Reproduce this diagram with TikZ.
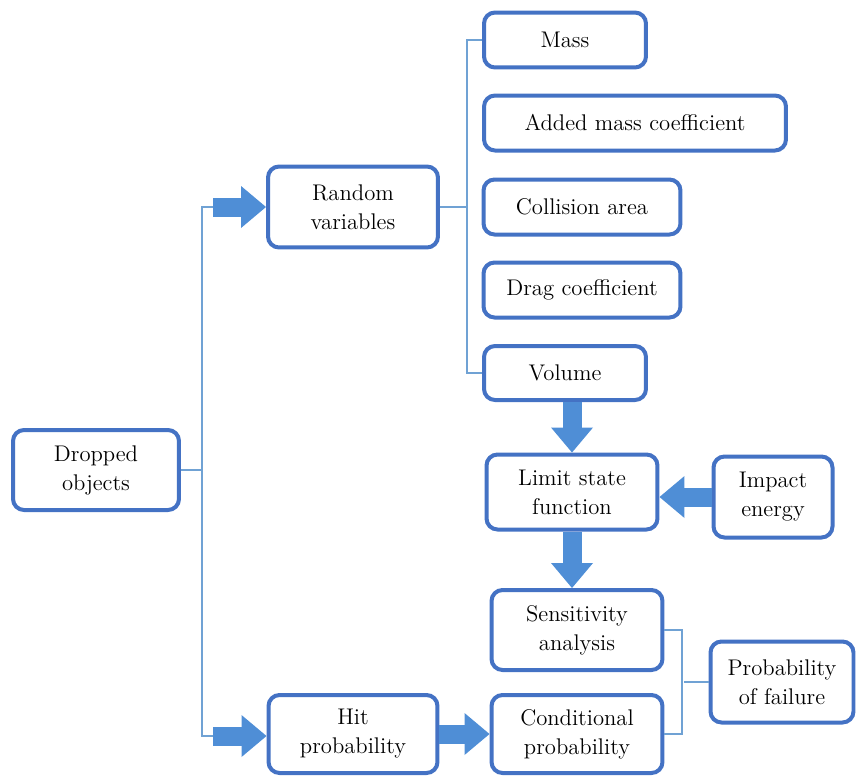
\documentclass[tikz,border=0pt]{standalone}
\usetikzlibrary{arrows.meta}
\definecolor{boxblue}{RGB}{68,114,196}
\definecolor{arrowblue}{RGB}{79,142,214}
\definecolor{linkblue}{RGB}{112,162,212}
\begin{document}
\begin{tikzpicture}[x=0.02cm,y=-0.02cm,
    box/.style={draw=boxblue,line width=0.08cm,rounded corners=0.22cm,fill=white,
        align=center,inner sep=0pt,font=\fontsize{12.9}{16.5}\selectfont},
    link/.style={draw=linkblue,line width=0.04cm},
    blockarrow/.style={draw=arrowblue,line width=0.38cm,
        -{Triangle[length=0.5cm,width=0.84cm,line width=0pt]}}]
        \useasboundingbox (0,0) rectangle (858,778);
        % Left column
        \node[box,minimum width=3.32cm,minimum height=1.6cm] (drop) at (96,470) {Dropped\\objects};
        \node[box,minimum width=3.4cm,minimum height=1.62cm] (rv) at (353,207) {Random\\variables};
        \node[box,minimum width=3.38cm,minimum height=1.56cm] (hit) at (353,734) {Hit\\probability};
        % Random variables
        \node[box,minimum width=3.24cm,minimum height=1.1cm] (mass) at (565,40) {Mass};
        \node[box,minimum width=6.04cm,minimum height=1.1cm] (amc) at (635,123) {Added mass coefficient};
        \node[box,minimum width=3.94cm,minimum height=1.1cm] (ca) at (582,207) {Collision area};
        \node[box,minimum width=3.94cm,minimum height=1.1cm] (dc) at (582,290) {Drag coefficient};
        \node[box,minimum width=3.24cm,minimum height=1.08cm] (vol) at (565,373) {Volume};
        % Analysis
        \node[box,minimum width=3.42cm,minimum height=1.5cm] (lsf) at (572,492) {Limit state\\function};
        \node[box,minimum width=2.38cm,minimum height=1.62cm] (ie) at (773,497) {Impact\\energy};
        \node[box,minimum width=3.42cm,minimum height=1.6cm] (sa) at (577,630) {Sensitivity\\analysis};
        \node[box,minimum width=3.42cm,minimum height=1.56cm] (cp) at (577,734) {Conditional\\probability};
        \node[box,minimum width=2.86cm,minimum height=1.62cm] (pf) at (782,682) {Probability\\of failure};
        % Branch points
        \coordinate (jt) at (213,207);
        \coordinate (jb) at (213,736);
        % Thin links
        \draw[link] (drop.east) -- ++(21,0) |- (jt);
        \draw[link] (drop.east) -- ++(21,0) |- (jb);
        \draw[link] (rv.east) -- ++(27,0);
        \draw[link] (mass.west) -- ++(-15,0) |- (vol.west);
        \draw[link] (sa.east) -- ++(18,0) |- (cp.east);
        \draw[link] (pf.west) -- ++(-25,0);
        % Block arrows
        \draw[blockarrow] (jt) -- (rv.west);
        \draw[blockarrow] (jb) -- (jb -| hit.west);
        \draw[blockarrow] (hit.east) -- (hit.east -| cp.west);
        \draw[blockarrow] (vol.south -| lsf.north) -- (lsf.north);
        \draw[blockarrow] (lsf.south) -- (lsf.south |- sa.north);
        \draw[blockarrow] (ie.west) -- (ie.west -| lsf.east);
    \end{tikzpicture}
\end{document}
